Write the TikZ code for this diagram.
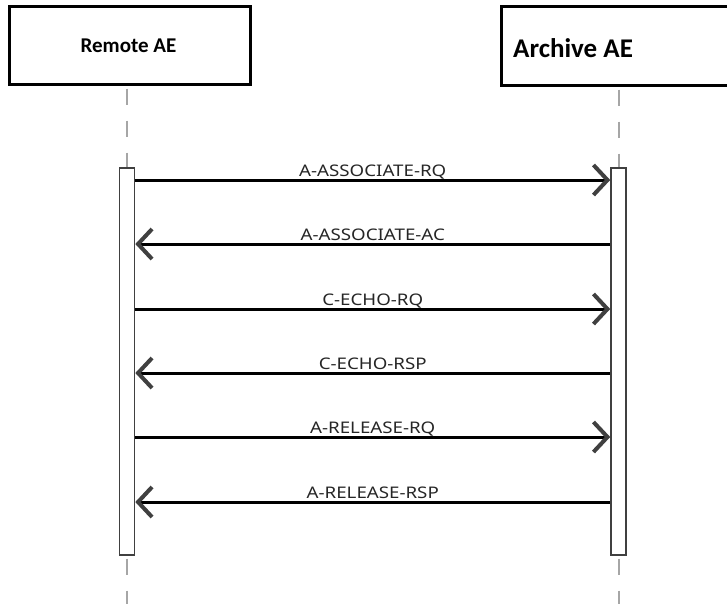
\documentclass[tikz,border=0pt]{standalone}
\usepackage{fontspec}
\setmainfont{Noto Sans}
\newfontfamily\hdrfont{Carlito}
\newfontfamily\msgfont[FakeStretch=1.17]{Noto Sans}
\usetikzlibrary{arrows.meta,calc}
\definecolor{lifegray}{HTML}{A6A6A6}
\definecolor{headgray}{HTML}{404040}
\definecolor{actgray}{HTML}{404040}
\tikzset{
  header/.style={draw=black, line width=3pt, fill=white, inner sep=0pt, anchor=north west},
  activation/.style={draw=actgray, line width=1.6pt, fill=white, minimum width=15pt, inner sep=0pt, anchor=north},
  lifeline/.style={draw=lifegray, line width=2pt, dash pattern=on 16pt off 16pt},
  msg/.style={line width=3pt, -{Straight Barb[length=14pt, width=30pt, line width=4pt, color=headgray]}},
  msglabel/.style={font=\msgfont\fontsize{16}{18}\selectfont, text=black!85, anchor=base, inner sep=0pt, yshift=4pt}
}
\begin{document}
\begin{tikzpicture}[x=1pt, y=-1pt]
\useasboundingbox (0,0) rectangle (727,603);
\clip (0,0) rectangle (727,603);
\fill[white] (0,0) rectangle (727,603);

% headers
\node[header, minimum width=241pt, minimum height=78pt] (remote) at (8,5) {};
\node[header, minimum width=240pt, minimum height=79pt] (archive) at (500,5) {};
\node[font=\hdrfont\bfseries\fontsize{21}{24}\selectfont, anchor=base, inner sep=0pt] (remotelbl) at (128.5,52) {Remote AE};
\node[font=\hdrfont\bfseries\fontsize{27}{30}\selectfont, anchor=base west, inner sep=0pt] (archivelbl) at (513,57) {Archive AE};

% activation boxes
\node[activation, minimum height=387pt] (actL) at (127,167) {};
\node[activation, minimum height=387pt] (actR) at (618.5,167) {};
\coordinate (endL) at (127,610);
\coordinate (endR) at (618.5,610);

% lifelines
\draw[lifeline, shorten <=2.5pt] (actL.north |- remote.south) -- (actL.north);
\draw[lifeline, shorten <=2.5pt] (actR.north |- archive.south) -- (actR.north);
\draw[lifeline, shorten <=3pt] (actL.south) -- (endL);
\draw[lifeline, shorten <=3pt] (actR.south) -- (endR);
\node[activation, minimum height=387pt] at (127,167) {};
\node[activation, minimum height=387pt] at (618.5,167) {};

% messages
\coordinate (m1) at (0,180);
\coordinate (m2) at (0,244);
\coordinate (m3) at (0,309);
\coordinate (m4) at (0,373);
\coordinate (m5) at (0,437);
\coordinate (m6) at (0,502);
\draw[msg] (actL.east |- m1) -- (actR.west |- m1) node[msglabel, midway] {A-ASSOCIATE-RQ};
\draw[msg] (actR.west |- m2) -- (actL.east |- m2) node[msglabel, midway] {A-ASSOCIATE-AC};
\draw[msg] (actL.east |- m3) -- (actR.west |- m3) node[msglabel, midway] {C-ECHO-RQ};
\draw[msg] (actR.west |- m4) -- (actL.east |- m4) node[msglabel, midway] {C-ECHO-RSP};
\draw[msg] (actL.east |- m5) -- (actR.west |- m5) node[msglabel, midway] {A-RELEASE-RQ};
\draw[msg] (actR.west |- m6) -- (actL.east |- m6) node[msglabel, midway] {A-RELEASE-RSP};
\end{tikzpicture}
\end{document}
